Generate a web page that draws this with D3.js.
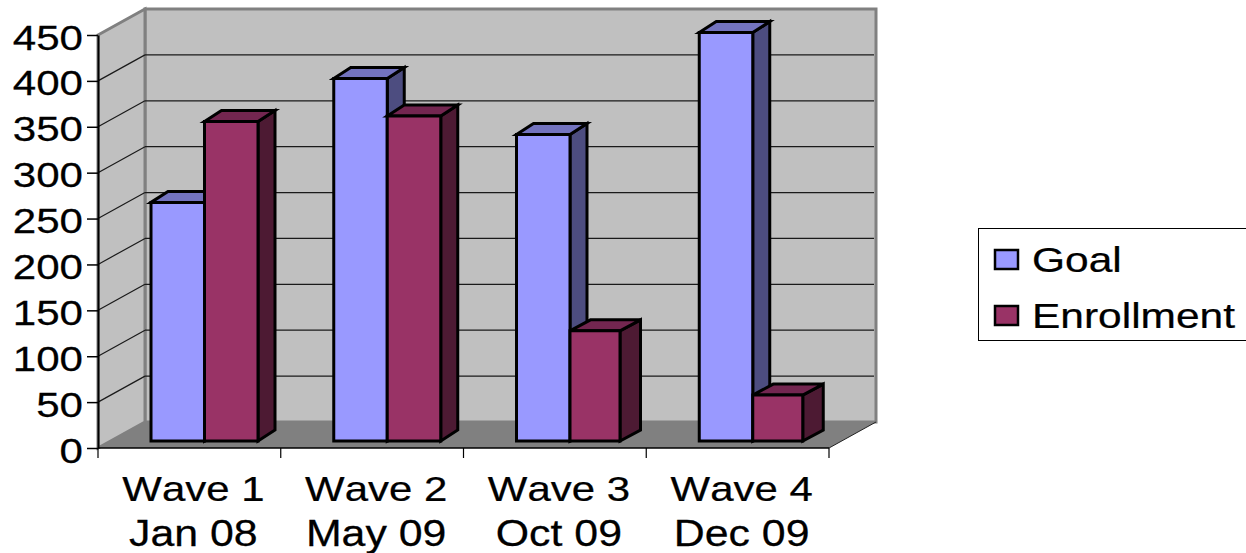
<!DOCTYPE html>
<html>
<head>
<meta charset="utf-8">
<script src="https://d3js.org/d3.v7.min.js"></script>
<style>
  html, body { margin: 0; padding: 0; background: #fff; overflow: hidden; }
  text { font-family: "Liberation Sans", Arial, sans-serif; fill: #000; font-kerning: none; stroke: #000; stroke-width: 0.25px; }
</style>
</head>
<body>
<div id="my_dataviz"></div>
<script>
// data
var waves = ["Wave 1", "Wave 2", "Wave 3", "Wave 4"];
var dates = ["Jan 08", "May 09", "Oct 09", "Dec 09"];
var seriesNames = ["Goal", "Enrollment"];
var goal = [260, 395, 334, 445];
var enrollment = [348, 354, 120, 50];
var yTicks = [0, 50, 100, 150, 200, 250, 300, 350, 400, 450];

var width = 1246, height = 553;
var depthX = 47, depthY = -26;   // wall depth
var colors = {
  Goal: {front: "#9999ff", side: "#4d4d80", top: "#7373bf"},
  Enrollment: {front: "#993366", side: "#4d1a33", top: "#732650"}
};
var fontSize = 36;
// the original text is stretched sideways
var axisStretch = 1.17, waveStretch = 1.165, dateStretch = 1.19, legendStretch = 1.18;

var svg = d3.select("#my_dataviz").append("svg")
    .attr("width", width)
    .attr("height", height)
    .style("display", "block");

var x = d3.scaleBand().domain(waves).range([98, 829]);
var y = d3.scaleLinear().domain([0, 450]).range([448, 35]);
var xSeries = d3.scaleBand().domain(seriesNames).range([0, 107]);

var left = x.range()[0], right = x.range()[1];
var y0 = y(0), yTop = y(450);

function poly(pts) { return pts.map(function(p) { return p.join(","); }).join(" "); }

// walls and floor
svg.append("polygon")
    .attr("points", poly([[left + depthX, yTop + depthY], [right + depthX, yTop + depthY], [right + depthX, y0 + depthY], [left + depthX, y0 + depthY]]))
    .attr("fill", "#c0c0c0")
    .attr("stroke", "#808080")
    .attr("stroke-width", 3);
svg.append("polygon")
    .attr("points", poly([[left, yTop], [left + depthX, yTop + depthY], [left + depthX, y0 + depthY], [left, y0]]))
    .attr("fill", "#c0c0c0")
    .attr("stroke", "#808080")
    .attr("stroke-width", 3);
svg.append("polygon")
    .attr("points", poly([[left, y0], [left + depthX, y0 + depthY], [right + depthX, y0 + depthY], [right, y0]]))
    .attr("fill", "#808080");

// gridlines, wall side then back
var grid = svg.append("g").attr("stroke", "#1a1a1a").attr("stroke-width", 1.2);
yTicks.slice(1, -1).forEach(function(t) {
  grid.append("line")
      .attr("x1", left).attr("y1", y(t))
      .attr("x2", left + depthX).attr("y2", y(t) + depthY);
  grid.append("line")
      .attr("x1", left + depthX).attr("y1", y(t) + depthY)
      .attr("x2", right + depthX - 2).attr("y2", y(t) + depthY);
});
svg.append("line")
    .attr("x1", right).attr("y1", y0)
    .attr("x2", right + depthX).attr("y2", y0 + depthY)
    .attr("stroke", "#222").attr("stroke-width", 1);

// y axis
var yAxis = svg.append("g")
    .attr("transform", "translate(" + left + ",0)")
    .call(d3.axisLeft(y).tickValues(yTicks).tickSize(11).tickSizeOuter(0));
yAxis.select(".domain").attr("stroke", "#000").attr("stroke-width", 2);
yAxis.selectAll(".tick line").attr("stroke", "#000").attr("stroke-width", 1.5);
yAxis.selectAll(".tick text")
    .attr("x", 0).attr("dy", null).attr("y", 0)
    .attr("text-anchor", "end")
    .attr("font-size", fontSize)
    .attr("transform", "translate(-15,14) scale(" + axisStretch + ",1)");

// x axis line, ticks sit between the categories
svg.append("line")
    .attr("x1", left).attr("y1", y0).attr("x2", right).attr("y2", y0)
    .attr("stroke", "#000").attr("stroke-width", 1.5);
waves.concat([null]).forEach(function(w) {
  var tx = w === null ? right : x(w);
  svg.append("line")
      .attr("x1", tx).attr("y1", y0).attr("x2", tx).attr("y2", y0 + 10)
      .attr("stroke", "#000").attr("stroke-width", 1.2);
});
waves.forEach(function(w, i) {
  var cx = x(w) + x.bandwidth() / 2 + 4;
  svg.append("text")
      .attr("text-anchor", "middle").attr("font-size", fontSize)
      .attr("transform", "translate(" + cx + ",501) scale(" + waveStretch + ",1)")
      .text(w);
  svg.append("text")
      .attr("text-anchor", "middle").attr("font-size", fontSize)
      .attr("transform", "translate(" + cx + ",546) scale(" + dateStretch + ",1)")
      .text(dates[i]);
});

// 3d bars
var barShift = -7, barDx = 17, barDy = -11;
function drawBar(name, w, v, i) {
  var c = colors[name];
  var narrow = (name === "Enrollment" && i >= 2) ? 3.5 : 0;  // last two come out thinner and deeper
  var x0 = x(w) + 53 + xSeries(name);
  var x1 = x0 + xSeries.bandwidth() - narrow;
  var dx = barDx + narrow;
  var yb = y(0) + barShift, yt = y(v) + barShift;
  var g = svg.append("g")
      .attr("stroke", "#000").attr("stroke-width", 3).attr("stroke-linejoin", "miter");
  g.append("polygon").attr("fill", c.side)
      .attr("points", poly([[x1, yt], [x1 + dx, yt + barDy], [x1 + dx, yb + barDy], [x1, yb]]));
  g.append("polygon").attr("fill", c.top)
      .attr("points", poly([[x0, yt], [x0 + dx, yt + barDy], [x1 + dx, yt + barDy], [x1, yt]]));
  g.append("polygon").attr("fill", c.front)
      .attr("points", poly([[x0, yt], [x1, yt], [x1, yb], [x0, yb]]));
}
waves.forEach(function(w, i) {
  drawBar("Goal", w, goal[i], i);
  drawBar("Enrollment", w, enrollment[i], i);
});

// legend
var legend = svg.append("g");
legend.append("rect")
    .attr("x", 978.5).attr("y", 228.5).attr("width", 270).attr("height", 112)
    .attr("fill", "#fff").attr("stroke", "#000").attr("stroke-width", 1);
seriesNames.forEach(function(name, i) {
  var ly = 250 + i * 56;
  legend.append("rect")
      .attr("x", 995).attr("y", ly).attr("width", 23).attr("height", 19)
      .attr("fill", colors[name].front)
      .attr("stroke", "#000").attr("stroke-width", 2.5);
  legend.append("text")
      .attr("font-size", fontSize)
      .attr("transform", "translate(1032," + (ly + 22) + ") scale(" + legendStretch + ",1)")
      .text(name);
});
</script>
</body>
</html>
